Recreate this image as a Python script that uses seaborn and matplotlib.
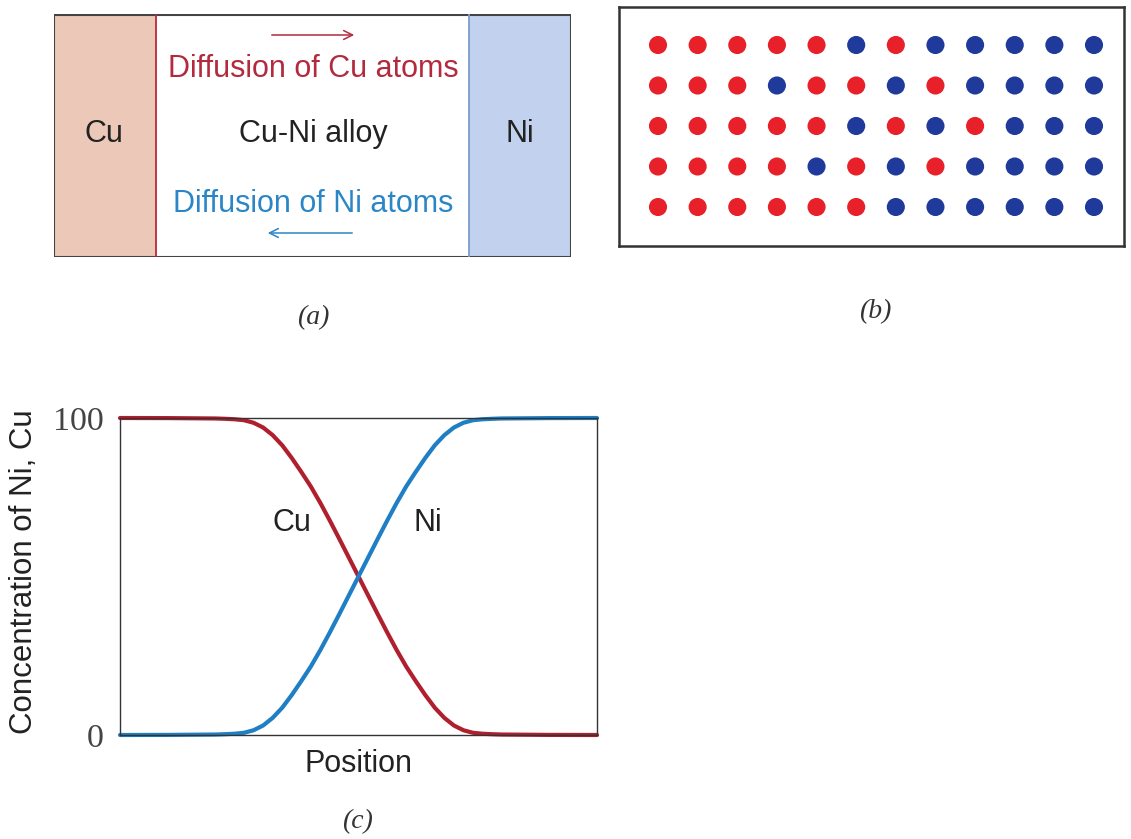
import matplotlib
matplotlib.use("Agg")
import matplotlib.pyplot as plt
from matplotlib.patches import Rectangle
import seaborn as sns
import pandas as pd

# ---------------- data ----------------
# panel (b): atom arrangement, 5 rows x 12 columns (R = Cu, B = Ni)
grid_rows = [
    "RRRRRBRBBBBB",
    "RRRBRRBRBBBB",
    "RRRRRBRBRBBB",
    "RRRRBRBRBBBB",
    "RRRRRRBBBBBB",
]
# panel (c): concentration profiles vs position
position = [0.00, 0.10, 0.20, 0.22, 0.24, 0.26, 0.28, 0.30, 0.32, 0.34, 0.36, 0.38,
            0.40, 0.42, 0.44, 0.46, 0.48, 0.50, 0.52, 0.54, 0.56, 0.58, 0.60, 0.62,
            0.64, 0.66, 0.68, 0.70, 0.72, 0.74, 0.76, 0.78, 0.80, 0.90, 1.00]
cu_conc = [100.0, 99.97, 99.85, 99.75, 99.6, 99.3, 98.5, 97.0, 94.6, 91.4, 87.4, 83.0,
           78.4, 73.2, 67.6, 61.8, 55.9, 50.0, 44.1, 38.2, 32.4, 26.8, 21.6, 17.0,
           12.6, 8.6, 5.4, 3.0, 1.5, 0.7, 0.4, 0.25, 0.15, 0.03, 0.0]
ni_conc = [0.0, 0.03, 0.15, 0.25, 0.4, 0.7, 1.5, 3.0, 5.4, 8.6, 12.6, 17.0,
           21.6, 26.8, 32.4, 38.2, 44.1, 50.0, 55.9, 61.8, 67.6, 73.2, 78.4, 83.0,
           87.4, 91.4, 94.6, 97.0, 98.5, 99.3, 99.6, 99.75, 99.85, 99.97, 100.0]
tick_values = [0, 100]
tick_labels = ["0", "100"]

# ---------------- style ----------------
sns.set_style("white")
plt.rcParams['font.family'] = ['Liberation Sans', 'DejaVu Sans']
SERIF = ["Liberation Serif", "DejaVu Serif"]
FS = 22

W, H = 1131, 839
fig = plt.figure(figsize=(W / 100, H / 100), dpi=100)

def px_axes(x0, y0, x1, y1):
    return fig.add_axes([x0 / W, 1 - y1 / H, (x1 - x0) / W, (y1 - y0) / H])

RED_TXT = "#b32a3e"
BLUE_TXT = "#2a86c6"
DOT_RED = "#e8202a"
DOT_BLUE = "#1f3a9a"
CU_LINE = "#b01f2e"
NI_LINE = "#1f7fc4"

# ---------------- panel (a) ----------------
axa = px_axes(54, 14, 571, 257)
axa.set_xlim(54, 571)
axa.set_ylim(257, 14)
axa.axis("off")
axa.add_patch(Rectangle((54, 14), 102, 243, facecolor="#ecc8b8", edgecolor="none"))
axa.add_patch(Rectangle((469, 14), 102, 243, facecolor="#c2d2ee", edgecolor="none"))
axa.plot([156, 156], [14, 257], color="#b8283a", lw=1.3)
axa.plot([469, 469], [14, 257], color="#7a9cd0", lw=1.3)
axa.add_patch(Rectangle((54.5, 14.5), 516, 242, facecolor="none", edgecolor="#444444", lw=1.5))
axa.text(104, 134, "Cu", ha="center", va="center", fontsize=FS, color="#222222")
axa.text(313, 134, "Cu-Ni alloy", ha="center", va="center", fontsize=FS, color="#222222")
axa.text(520, 134, "Ni", ha="center", va="center", fontsize=FS, color="#222222")
axa.text(313, 69, "Diffusion of Cu atoms", ha="center", va="center", fontsize=FS, color=RED_TXT)
axa.text(313, 204, "Diffusion of Ni atoms", ha="center", va="center", fontsize=FS, color=BLUE_TXT)
axa.annotate("", xy=(357, 35), xytext=(269, 35),
             arrowprops=dict(arrowstyle="->", color=RED_TXT, lw=1.1, mutation_scale=16))
axa.annotate("", xy=(265, 233), xytext=(355, 233),
             arrowprops=dict(arrowstyle="->", color=BLUE_TXT, lw=1.1, mutation_scale=16))
fig.text(313 / W, 1 - 318 / H, "(a)", ha="center", va="center", fontsize=20,
         style="italic", family=SERIF, color="#333333")

# ---------------- panel (b) ----------------
cells = []
for r, row in enumerate(grid_rows):
    for c, ch in enumerate(row):
        cells.append({"col": c, "row": r, "atom": "Cu" if ch == "R" else "Ni"})
dots = pd.DataFrame(cells)
axb = px_axes(619, 7, 1124, 246)
sns.scatterplot(data=dots, x="col", y="row", hue="atom",
                palette={"Cu": DOT_RED, "Ni": DOT_BLUE}, s=170,
                edgecolor="none", legend=False, ax=axb)
sp = (1094 - 658) / 11
rs = (207 - 45) / 4
axb.set_xlim((619 - 658) / sp, (1124 - 658) / sp)
axb.set_ylim((246 - 45) / rs, (7 - 45) / rs)
axb.set_xticks([]); axb.set_yticks([])
axb.set_xlabel(""); axb.set_ylabel("")
for s in axb.spines.values():
    s.set_visible(True); s.set_color("#333333"); s.set_linewidth(1.8)
fig.text(875 / W, 1 - 312 / H, "(b)", ha="center", va="center", fontsize=20,
         style="italic", family=SERIF, color="#333333")

# ---------------- panel (c) ----------------
axc = px_axes(120, 418, 597, 735)
prof = pd.DataFrame({"pos": position, "Cu": cu_conc, "Ni": ni_conc})
sns.lineplot(data=prof, x="pos", y="Cu", color=CU_LINE, lw=3.0, ax=axc, clip_on=False)
sns.lineplot(data=prof, x="pos", y="Ni", color=NI_LINE, lw=3.0, ax=axc, clip_on=False)
axc.set_xlim(0, 1)
axc.set_ylim(0, 100)
axc.set_xticks([])
axc.set_yticks(tick_values)
axc.set_yticklabels(tick_labels, fontsize=24.5, color="#444444", family=SERIF)
axc.tick_params(axis="y", length=0, pad=12)
for s in axc.spines.values():
    s.set_visible(True); s.set_color("#333333"); s.set_linewidth(1.0)
axc.set_xlabel("Position", fontsize=FS, color="#222222")
axc.xaxis.set_label_coords(0.5, -(749 - 735) / 317)
axc.set_ylabel("Concentration of Ni, Cu", fontsize=22.5, color="#222222")
axc.yaxis.set_label_coords(-(120 - 39) / 477, 0.515)
axc.text((292 - 120) / 477, (735 - 523) / 317, "Cu", transform=axc.transAxes,
         ha="center", va="center", fontsize=FS, color="#222222")
axc.text((428 - 120) / 477, (735 - 523) / 317, "Ni", transform=axc.transAxes,
         ha="center", va="center", fontsize=FS, color="#222222")
fig.text(357 / W, 1 - 822 / H, "(c)", ha="center", va="center", fontsize=20,
         style="italic", family=SERIF, color="#333333")

fig.savefig("out.png", dpi=100, facecolor="white")
